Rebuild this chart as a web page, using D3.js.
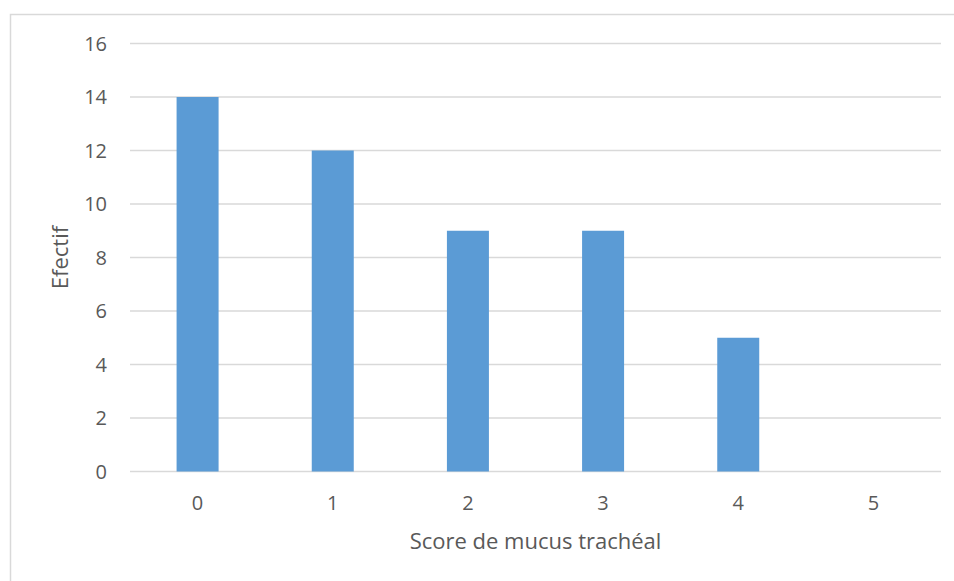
<!DOCTYPE html>
<html>
<head>
<meta charset="utf-8">
<script src="https://cdn.jsdelivr.net/npm/d3@7"></script>
<style>
  body { margin: 0; background: #fff; }
  text { font-family: "Open Sans", sans-serif; fill: #595959; }
</style>
</head>
<body>
<svg width="954" height="581"></svg>
<script>
var categories = ["0", "1", "2", "3", "4", "5"];
var counts = [14, 12, 9, 9, 5, 0];
var yTicks = [0, 2, 4, 6, 8, 10, 12, 14, 16];

var svg = d3.select("svg"),
    margin = {top: 43.5, right: 13, bottom: 109.5, left: 130},
    width = +svg.attr("width") - margin.left - margin.right,
    height = +svg.attr("height") - margin.top - margin.bottom;

// chart frame (only top and left edges fall inside the picture)
svg.append("rect")
    .attr("x", 10.5).attr("y", 14.5)
    .attr("width", 1000).attr("height", 1000)
    .attr("fill", "none")
    .attr("stroke", "#d9d9d9")
    .attr("stroke-width", 1.5);

var xc = d3.scaleBand().domain(categories).range([0, width]);
var y = d3.scaleLinear().domain([0, 16]).range([height, 0]);

var g = svg.append("g")
    .attr("transform", "translate(" + margin.left + "," + margin.top + ")");

g.selectAll(".grid")
  .data(yTicks)
  .enter().append("line")
    .attr("class", "grid")
    .attr("x1", 0).attr("x2", width)
    .attr("y1", function(d) { return y(d); })
    .attr("y2", function(d) { return y(d); })
    .attr("stroke", "#d9d9d9")
    .attr("stroke-width", 1.3);

g.selectAll(".bar")
  .data(counts)
  .enter().append("rect")
    .attr("class", "bar")
    .attr("x", function(d, i) { return xc(categories[i]) + xc.bandwidth() / 2 - 21; })
    .attr("width", 42)
    .attr("y", function(d) { return y(d); })
    .attr("height", function(d) { return height - y(d); })
    .attr("fill", "#5b9bd5");

// y tick labels
g.selectAll(".ylab")
  .data(yTicks)
  .enter().append("text")
    .attr("class", "ylab")
    .attr("x", -23)
    .attr("y", function(d) { return y(d); })
    .attr("dy", "0.36em")
    .attr("text-anchor", "end")
    .style("font-size", "20px")
    .text(function(d) { return d; });

// x tick labels
g.selectAll(".xlab")
  .data(categories)
  .enter().append("text")
    .attr("class", "xlab")
    .attr("x", function(d) { return xc(d) + xc.bandwidth() / 2; })
    .attr("y", height + 38)
    .attr("text-anchor", "middle")
    .style("font-size", "20px")
    .text(function(d) { return d; });

g.append("text")
    .attr("x", width / 2)
    .attr("y", height + 77)
    .attr("text-anchor", "middle")
    .style("font-size", "22px")
    .text("Score de mucus trachéal");

g.append("text")
    .attr("transform", "translate(" + (-62) + "," + (height / 2) + ") rotate(-90)")
    .attr("text-anchor", "middle")
    .style("font-size", "22px")
    .text("Efectif");
</script>
</body>
</html>
